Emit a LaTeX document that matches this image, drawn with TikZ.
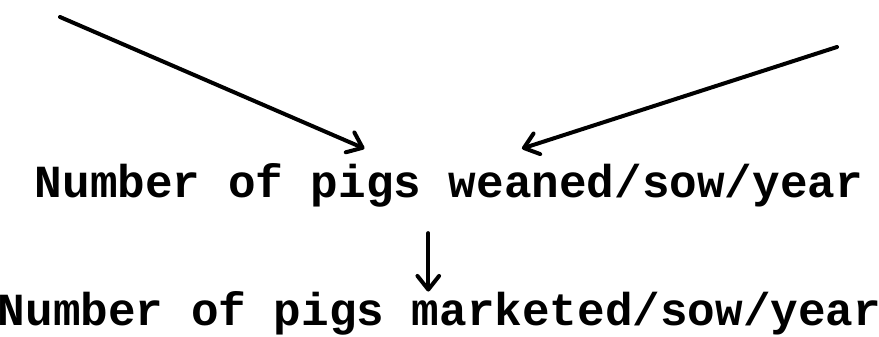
\documentclass[tikz,border=0pt]{standalone}
\usepackage{fontspec}
\setmonofont{Liberation Mono}
\usetikzlibrary{arrows.meta,calc}
\tikzset{
 flow/.style={line width=2pt,line cap=round,-{Straight Barb[length=2.4mm,width=3.8mm,round]}},
 outcome/.style={font=\ttfamily\bfseries\fontsize{23}{27}\selectfont,anchor=base,inner xsep=0pt},
 weanbox/.style={outcome,inner ysep=7.5pt},
 marketbox/.style={outcome,inner ysep=0pt}
}

\begin{document}
\begin{tikzpicture}[x=0.5pt,y=0.5pt]
\path[use as bounding box] (0,0) rectangle (879,337);
\node[weanbox] (weaned) at (449,139) {Number of pigs weaned/sow/year};
\node[marketbox] (marketed) at (439.5,11) {Number of pigs marketed/sow/year};
\coordinate (leftsrc) at (60,320);
\coordinate (rightsrc) at (837,290);
\coordinate (drop) at ($(weaned.south west)!.475!(weaned.south east)$);
\draw[flow] (leftsrc) -- ($(weaned.north west)!.398!(weaned.north east)$);
\draw[flow] (rightsrc) -- ($(weaned.north west)!.588!(weaned.north east)$);
\draw[flow,shorten <=5pt] (drop) -- (drop |- marketed.north);
\end{tikzpicture}
\end{document}
